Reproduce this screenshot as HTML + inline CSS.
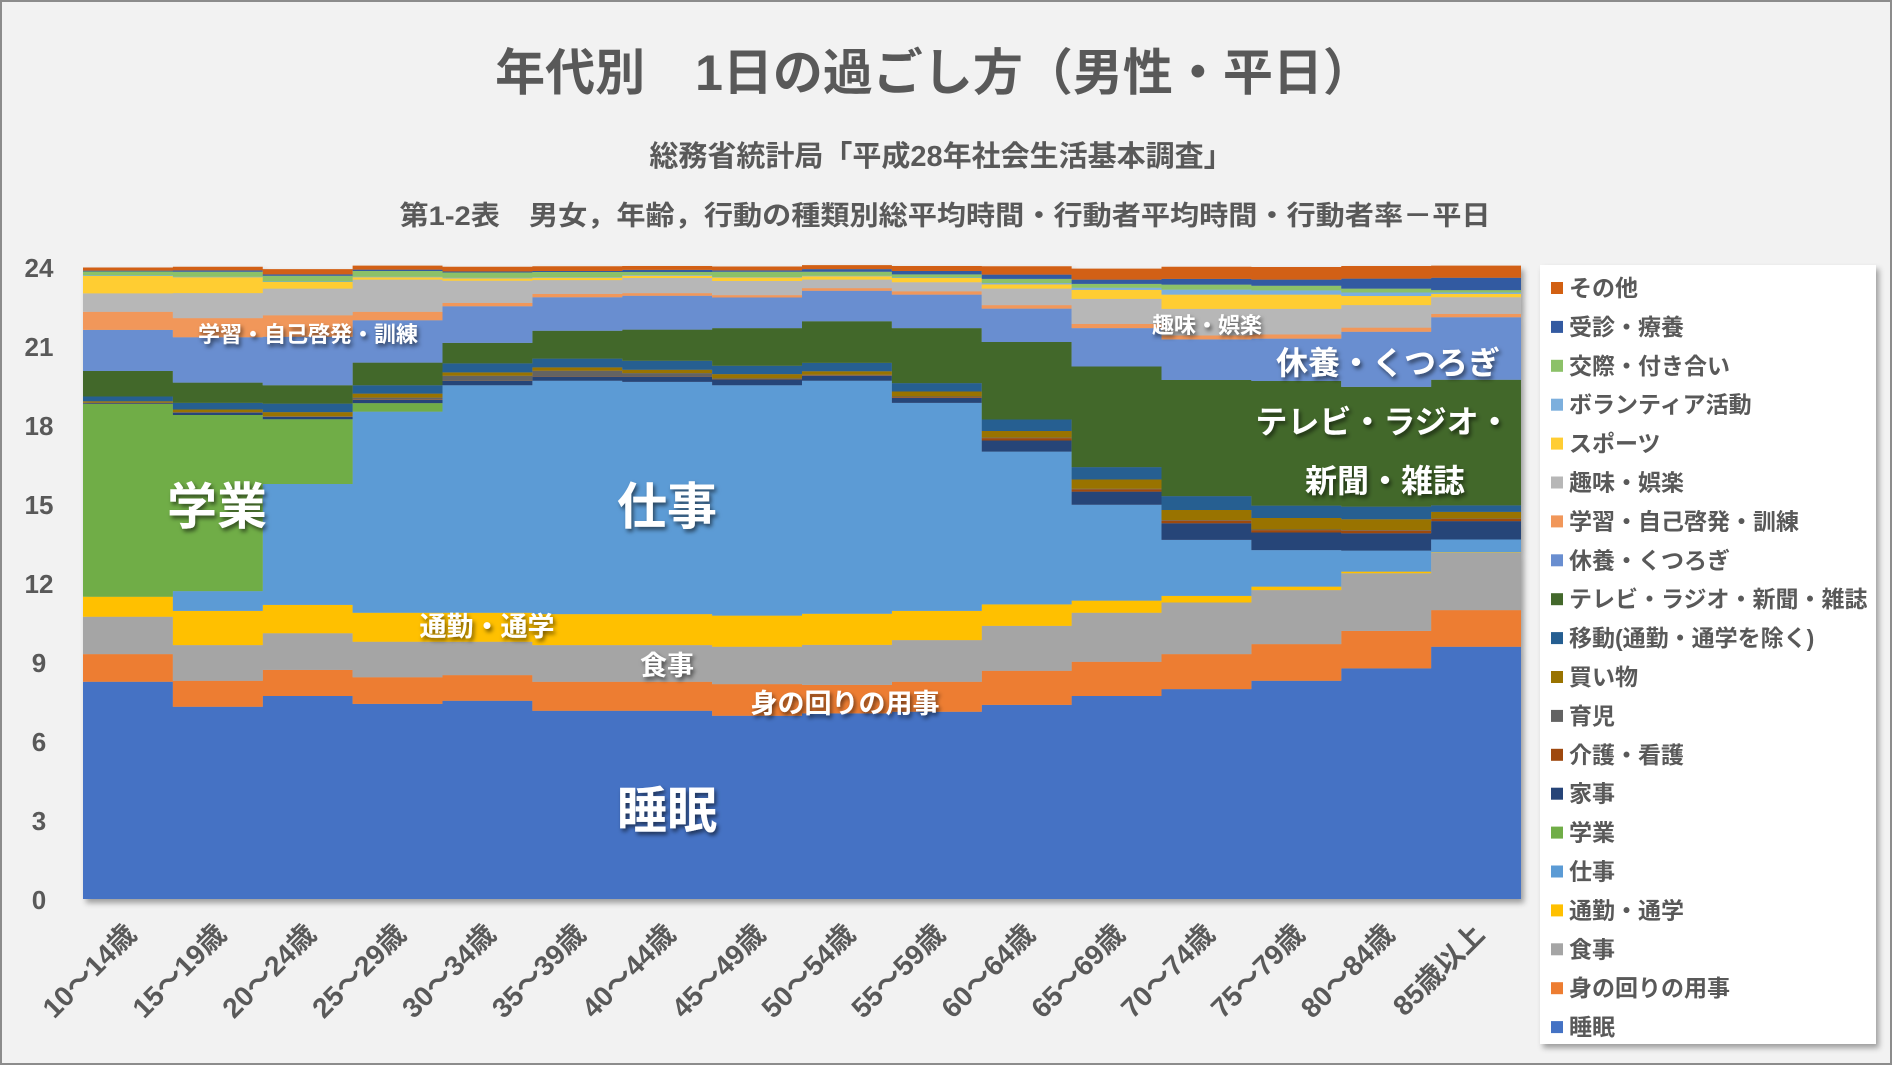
<!DOCTYPE html>
<html><head><meta charset="utf-8"><style>
html,body{margin:0;padding:0;background:#f2f2f2}
svg{display:block}
text{font-family:"Liberation Sans","Noto Sans CJK JP",sans-serif;font-weight:bold}
.lbl{fill:#fff;filter:url(#ts)}
</style></head><body>
<svg id="chart" width="1892" height="1065" viewBox="0 0 1892 1065" xmlns="http://www.w3.org/2000/svg">
<defs>
<filter id="ts" x="-20%" y="-20%" width="140%" height="140%"><feDropShadow dx="2" dy="3" stdDeviation="2" flood-color="#000" flood-opacity="0.55"/></filter>
<filter id="bs" x="-5%" y="-5%" width="110%" height="110%"><feDropShadow dx="3" dy="4" stdDeviation="3" flood-color="#000" flood-opacity="0.35"/></filter>
</defs>
<rect x="1" y="1" width="1890" height="1063" fill="#f2f2f2" stroke="#8c8c8c" stroke-width="2"/>
<text x="934" y="90" font-size="50" fill="#595959" text-anchor="middle">年代別　1日の過ごし方（男性・平日）</text>
<text x="941" y="166" font-size="29" fill="#595959" text-anchor="middle">総務省統計局「平成28年社会生活基本調査」</text>
<text x="945" y="225" font-size="27" fill="#595959" text-anchor="middle" textLength="1091" lengthAdjust="spacingAndGlyphs">第1-2表　男女，年齢，行動の種類別総平均時間・行動者平均時間・行動者率－平日</text>
<g id="plot" filter="url(#bs)"></g>
<g id="yaxis"></g>
<g id="xaxis"></g>
<g id="labels">
<text class="lbl" x="217" y="524" font-size="50" text-anchor="middle">学業</text>
<text class="lbl" x="667" y="524" font-size="50" text-anchor="middle">仕事</text>
<text class="lbl" x="667" y="828" font-size="50" text-anchor="middle">睡眠</text>
<text class="lbl" x="487" y="636" font-size="27" text-anchor="middle">通勤・通学</text>
<text class="lbl" x="667" y="675" font-size="27" text-anchor="middle">食事</text>
<text class="lbl" x="845" y="713" font-size="27" text-anchor="middle">身の回りの用事</text>
<text class="lbl" x="308" y="342" font-size="22" text-anchor="middle">学習・自己啓発・訓練</text>
<text class="lbl" x="1207" y="333" font-size="22" text-anchor="middle">趣味・娯楽</text>
<text class="lbl" x="1388" y="374" font-size="32" text-anchor="middle">休養・くつろぎ</text>
<text class="lbl" x="1383" y="433" font-size="32" text-anchor="middle">テレビ・ラジオ・</text>
<text class="lbl" x="1385" y="492" font-size="32" text-anchor="middle">新聞・雑誌</text>
</g>
<g id="legend">
<rect x="1540" y="265" width="336" height="779" fill="#ffffff" filter="url(#bs)"/>
</g>
</svg>
<script>
const categories=["10～14歳","15～19歳","20～24歳","25～29歳","30～34歳","35～39歳","40～44歳","45～49歳","50～54歳","55～59歳","60～64歳","65～69歳","70～74歳","75～79歳","80～84歳","85歳以上"];
const yTicks=[0,3,6,9,12,15,18,21,24];
const seriesNames=["睡眠","身の回りの用事","食事","通勤・通学","仕事","学業","家事","介護・看護","育児","買い物","移動(通勤・通学を除く)","テレビ・ラジオ・新聞・雑誌","休養・くつろぎ","学習・自己啓発・訓練","趣味・娯楽","スポーツ","ボランティア活動","交際・付き合い","受診・療養","その他"];
const seriesColors=["#4472C4","#ED7D31","#A5A5A5","#FFC000","#5B9BD5","#70AD47","#264478","#9E480E","#636363","#997300","#255E91","#43682B","#698ED0","#F1975A","#B7B7B7","#FFCD33","#7CAFDD","#8CC168","#335AA1","#D26012"];
const suimin=[8.25,7.30,7.71,7.41,7.53,7.15,7.15,6.96,7.05,7.11,7.37,7.71,7.97,8.29,8.76,9.58];
const minomawari=[1.05,0.99,0.99,1.01,0.97,1.10,1.10,1.20,1.08,1.14,1.30,1.30,1.33,1.39,1.42,1.39];
const shokuji=[1.42,1.35,1.39,1.35,1.27,1.39,1.39,1.42,1.52,1.58,1.70,1.86,1.96,2.05,2.19,2.18];
const tsukin=[0.76,1.30,1.08,1.10,1.10,1.18,1.18,1.18,1.18,1.11,0.82,0.46,0.25,0.13,0.06,0.02];
const shigoto=[0.00,0.75,4.59,7.64,8.64,8.86,8.82,8.75,8.85,7.90,5.80,3.64,2.13,1.39,0.80,0.48];
const gakugyo=[7.32,6.69,2.46,0.32,0.00,0.00,0.00,0.00,0.00,0.00,0.00,0.00,0.00,0.00,0.00,0.00];
const kaji=[0.03,0.09,0.09,0.13,0.16,0.15,0.19,0.22,0.19,0.19,0.42,0.50,0.63,0.67,0.66,0.70];
const kaigo=[0.01,0.01,0.01,0.02,0.01,0.01,0.01,0.01,0.02,0.03,0.09,0.09,0.10,0.09,0.10,0.09];
const ikuji=[0.01,0.01,0.01,0.06,0.19,0.22,0.13,0.03,0.02,0.02,0.02,0.02,0.02,0.02,0.02,0.01];
const kaimono=[0.05,0.10,0.16,0.15,0.13,0.13,0.13,0.16,0.13,0.19,0.25,0.35,0.38,0.44,0.41,0.25];
const ido=[0.18,0.25,0.32,0.32,0.34,0.33,0.34,0.32,0.32,0.32,0.44,0.47,0.53,0.47,0.48,0.25];
const tv=[0.97,0.77,0.70,0.86,0.78,1.06,1.18,1.43,1.58,2.09,2.94,3.82,4.41,4.73,4.55,4.77];
const kyuyo=[1.56,1.72,1.84,1.61,1.39,1.27,1.29,1.16,1.16,1.27,1.27,1.46,1.54,1.61,2.09,2.37];
const gakushu=[0.69,0.73,0.82,0.32,0.13,0.13,0.10,0.09,0.10,0.13,0.13,0.16,0.15,0.16,0.16,0.13];
const shumi=[0.70,0.95,1.01,1.22,0.84,0.52,0.57,0.54,0.32,0.34,0.63,0.95,1.01,0.97,0.85,0.63];
const sports=[0.66,0.60,0.25,0.09,0.09,0.09,0.09,0.13,0.13,0.16,0.16,0.34,0.54,0.54,0.35,0.13];
const volunteer=[0.02,0.02,0.02,0.02,0.02,0.02,0.02,0.02,0.02,0.02,0.05,0.08,0.19,0.16,0.13,0.05];
const kosai=[0.15,0.19,0.22,0.22,0.20,0.20,0.12,0.20,0.15,0.12,0.16,0.15,0.19,0.18,0.15,0.09];
const jushin=[0.03,0.05,0.05,0.05,0.04,0.04,0.08,0.05,0.10,0.13,0.16,0.16,0.22,0.23,0.38,0.47];
const sonota=[0.12,0.14,0.20,0.15,0.18,0.18,0.15,0.15,0.15,0.19,0.32,0.42,0.46,0.48,0.48,0.46];
const seriesValues=[suimin,minomawari,shokuji,tsukin,shigoto,gakugyo,kaji,kaigo,ikuji,kaimono,ido,tv,kyuyo,gakushu,shumi,sports,volunteer,kosai,jushin,sonota];

const NS="http://www.w3.org/2000/svg";
const X0=83,X1=1521,Y0=899,Y1=267,YMAX=24;
const bw=(X1-X0)/categories.length;
function xScale(i){return X0+i*bw;}
function yScale(v){return Y0-(v/YMAX)*(Y0-Y1);}
function mk(tag,attrs,parent){const e=document.createElementNS(NS,tag);for(const k in attrs)e.setAttribute(k,attrs[k]);parent.appendChild(e);return e;}

const plot=document.getElementById('plot');
const cum=categories.map(()=>0);
seriesValues.forEach((vals,s)=>{
  let top=[],bot=[];
  categories.forEach((c,i)=>{bot.push(cum[i]);cum[i]+=vals[i];top.push(cum[i]);});
  let d="";
  categories.forEach((c,i)=>{const xa=xScale(i),xb=xScale(i+1);d+=(i===0?"M":"L")+xa+","+yScale(top[i])+"L"+xb+","+yScale(top[i]);});
  for(let i=categories.length-1;i>=0;i--){d+="L"+xScale(i+1)+","+yScale(bot[i])+"L"+xScale(i)+","+yScale(bot[i]);}
  d+="Z";
  const p=mk('path',{d:d,fill:seriesColors[s]},plot);
  
  
});

const ya=document.getElementById('yaxis');
yTicks.forEach(t=>{
  const e=mk('text',{x:39,y:yScale(t)+10,'font-size':26,fill:'#595959','text-anchor':'middle'},ya);
  e.textContent=t;
  
  
});
const xa=document.getElementById('xaxis');
categories.forEach((c,i)=>{
  const cx=xScale(i)+bw/2+10,cy=936;
  const e=mk('text',{x:cx,y:cy,'font-size':28,fill:'#595959','text-anchor':'end',transform:'rotate(-45 '+cx+' '+cy+')'},xa);
  e.textContent=c;
  
  
});
const lg=document.getElementById('legend');
for(let k=0;k<seriesNames.length;k++){
  const s=seriesNames.length-1-k;
  const y=288+k*38.9;
  const r=mk('rect',{x:1551,y:y-6,width:12,height:12,fill:seriesColors[s]},lg);
  
  
  const t=mk('text',{x:1569,y:y+8,'font-size':23,fill:'#595959'},lg);
  t.textContent=seriesNames[s];
  
  
}
</script>
</body></html>
